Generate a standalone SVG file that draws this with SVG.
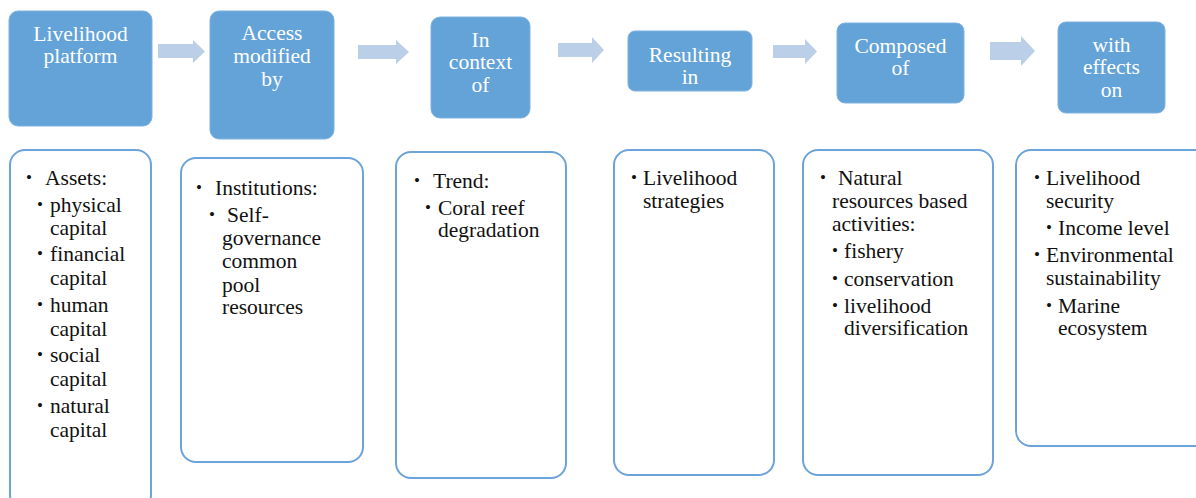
<svg xmlns="http://www.w3.org/2000/svg" width="1196" height="498" viewBox="0 0 1196 498" font-family="Liberation Serif, Times New Roman, DejaVu Serif, serif">
<style>
.top{fill:#64A3D8;stroke:#7DB2DF;stroke-width:1}
.bot{fill:#fff;stroke:#6BA3DA;stroke-width:2}
.arr{fill:#BBCFE8}
.tt{font-size:21.5px;fill:#fff;text-anchor:middle}
.bt{font-size:21.5px;fill:#111}
.b1{font-size:17px;fill:#111}
.b2{font-size:17px;fill:#111}
</style>
<rect width="1196" height="498" fill="#fff"/>
<g id="connectors">
<path class="arr" d="M158 44H193V40L205 51.5L193 63V58H158Z"/>
<path class="arr" d="M358 45H396V40L409 52L396 64V59H358Z"/>
<path class="arr" d="M558 43H592V37L604 50L592 63V57H558Z"/>
<path class="arr" d="M773 45H805V39L817 51.5L805 64V58H773Z"/>
<path class="arr" d="M990 42H1021V36L1035 51L1021 66V60H990Z"/>
</g>
<g font-family="Liberation Serif, serif">
<g id="head1"><rect class="top" x="9" y="11" width="143" height="115" rx="9"/>
<text class="tt" x="80.5" y="41">Livelihood</text><text class="tt" x="80.5" y="63">platform</text></g>
<g id="head2"><rect class="top" x="210" y="11" width="124" height="128" rx="9"/>
<text class="tt" x="272" y="40">Access</text><text class="tt" x="272" y="63">modified</text><text class="tt" x="272" y="86">by</text></g>
<g id="head3"><rect class="top" x="431" y="17" width="99" height="101" rx="9"/>
<text class="tt" x="480.5" y="47">In</text><text class="tt" x="480.5" y="69">context</text><text class="tt" x="480.5" y="92">of</text></g>
<g id="head4"><rect class="top" x="628" y="31" width="124" height="60" rx="7"/>
<text class="tt" x="690" y="62">Resulting</text><text class="tt" x="690" y="84">in</text></g>
<g id="head5"><rect class="top" x="837" y="23" width="127" height="80" rx="8"/>
<text class="tt" x="900.5" y="53">Composed</text><text class="tt" x="900.5" y="75">of</text></g>
<g id="head6"><rect class="top" x="1058" y="22" width="107" height="91" rx="8"/>
<text class="tt" x="1111.5" y="52">with</text><text class="tt" x="1111.5" y="74">effects</text><text class="tt" x="1111.5" y="97">on</text></g>

<g id="box1"><rect class="bot" x="10" y="150" width="141" height="360" rx="15"/>
<text class="b1" x="26" y="183">•</text><text class="bt" x="45" y="185">Assets:</text>
<text class="b2" x="37" y="210">•</text><text class="bt" x="50" y="212">physical</text><text class="bt" x="50" y="235">capital</text>
<text class="b2" x="37" y="259">•</text><text class="bt" x="50" y="261">financial</text><text class="bt" x="50" y="285">capital</text>
<text class="b2" x="37" y="310">•</text><text class="bt" x="50" y="312">human</text><text class="bt" x="50" y="336">capital</text>
<text class="b2" x="37" y="360">•</text><text class="bt" x="50" y="362">social</text><text class="bt" x="50" y="386">capital</text>
<text class="b2" x="37" y="411">•</text><text class="bt" x="50" y="413">natural</text><text class="bt" x="50" y="437">capital</text></g>

<g id="box2"><rect class="bot" x="181" y="158" width="182" height="304" rx="15"/>
<text class="b1" x="196" y="193">•</text><text class="bt" x="215" y="195">Institutions:</text>
<text class="b2" x="209" y="220">•</text><text class="bt" x="227" y="222">Self-</text>
<text class="bt" x="222" y="245">governance</text><text class="bt" x="222" y="268">common</text><text class="bt" x="222" y="292">pool</text><text class="bt" x="222" y="314">resources</text></g>

<g id="box3"><rect class="bot" x="396" y="152" width="170" height="326" rx="15"/>
<text class="b1" x="414" y="186">•</text><text class="bt" x="433" y="188">Trend:</text>
<text class="b2" x="425" y="213">•</text><text class="bt" x="438" y="215">Coral reef</text><text class="bt" x="438" y="237">degradation</text></g>

<g id="box4"><rect class="bot" x="614" y="150" width="160" height="325" rx="15"/>
<text class="b2" x="631" y="183">•</text><text class="bt" x="643" y="185">Livelihood</text><text class="bt" x="643" y="208">strategies</text></g>

<g id="box5"><rect class="bot" x="803" y="150" width="190" height="325" rx="15"/>
<text class="b1" x="820" y="183">•</text><text class="bt" x="838" y="185">Natural</text>
<text class="bt" x="832" y="208">resources based</text><text class="bt" x="832" y="231">activities:</text>
<text class="b2" x="832" y="256">•</text><text class="bt" x="844" y="258">fishery</text>
<text class="b2" x="832" y="284">•</text><text class="bt" x="844" y="286">conservation</text>
<text class="b2" x="832" y="311">•</text><text class="bt" x="844" y="313">livelihood</text><text class="bt" x="844" y="335">diversification</text></g>

<g id="box6"><rect class="bot" x="1016" y="150" width="200" height="296" rx="15"/>
<text class="b2" x="1034" y="183">•</text><text class="bt" x="1046" y="185">Livelihood</text><text class="bt" x="1046" y="208">security</text>
<text class="b2" x="1046" y="233">•</text><text class="bt" x="1058" y="235">Income level</text>
<text class="b2" x="1034" y="260">•</text><text class="bt" x="1046" y="262">Environmental</text><text class="bt" x="1046" y="285">sustainability</text>
<text class="b2" x="1046" y="311">•</text><text class="bt" x="1058" y="313">Marine</text><text class="bt" x="1058" y="335">ecosystem</text></g>
</g>
</svg>
